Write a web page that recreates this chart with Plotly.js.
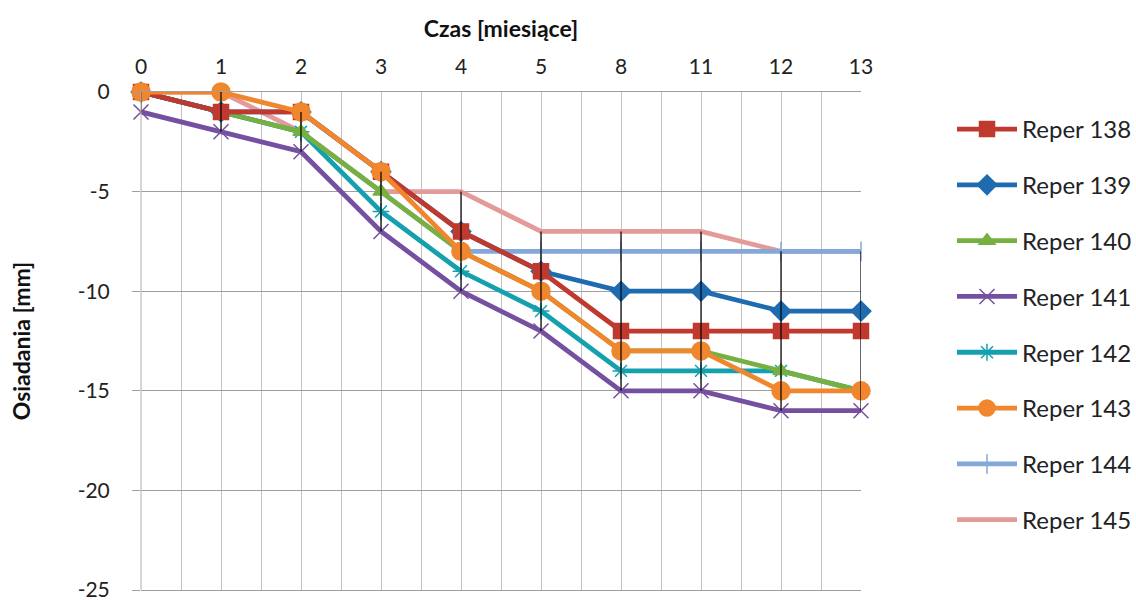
<!DOCTYPE html>
<html>
<head>
<meta charset="utf-8">
<script src="https://cdn.plot.ly/plotly-3.0.1.min.js"></script>
<style>html,body{margin:0;padding:0;background:#fff;}#chart{width:1136px;height:600px;}</style>
</head>
<body>
<div id="chart"></div>
<script>
const months = ["0","1","2","3","4","5","8","11","12","13"];
const reper138 = [0,-1,-1,-4,-7,-9,-12,-12,-12,-12];
const reper139 = [0,-1,-1,-4,-7,-9,-10,-10,-11,-11];
const reper140 = [0,-1,-2,-5,-8,-10,-13,-13,-14,-15];
const reper141 = [-1,-2,-3,-7,-10,-12,-15,-15,-16,-16];
const reper142 = [0,-1,-2,-6,-9,-11,-14,-14,-14,-15];
const reper143 = [0,0,-1,-4,-8,-10,-13,-13,-15,-15];
const reper144 = [0,-1,-2,-5,-8,-8,-8,-8,-8,-8];
const reper145 = [0,0,-2,-5,-5,-7,-7,-7,-8,-8];
const seriesNames = ["Reper 138","Reper 139","Reper 140","Reper 141","Reper 142","Reper 143","Reper 144","Reper 145"];
const yTicks = [0,-5,-10,-15,-20,-25];
const yTickText = ["0","-5","-10","-15","-20","-25"];

const idx = months.map((m,i)=>i);
const allSeries = [reper138,reper139,reper140,reper141,reper142,reper143,reper144,reper145];
const styles = [
  {color:'#C0392F', symbol:'square', size:15},
  {color:'#1F6BB0', symbol:'diamond', size:15},
  {color:'#76B041', symbol:'triangle-up', size:14},
  {color:'#7550A0', symbol:'x-thin-open', size:15},
  {color:'#14A0AE', symbol:'asterisk-open', size:14},
  {color:'#F0862E', symbol:'circle', size:18},
  {color:'#84A8D8', symbol:'line-ns-open', size:14},
  {color:'#E39A98', symbol:'circle', size:0}
];
const order = [7,6,4,2,3,1,0,5];
const traces = [];
order.forEach(k=>{
  const s = styles[k];
  traces.push({
    type:'scatter', mode: s.size ? 'lines+markers' : 'lines',
    x: idx, y: allSeries[k], name: seriesNames[k],
    legendrank: k+1, legendgroup: 'g'+k,
    line:{color:s.color, width:4.8},
    marker:{symbol:s.symbol, size:s.size, color:s.color, line:{color:s.color, width:1.5}},
    cliponaxis:false
  });
});
const hx = [], hy = [];
idx.forEach(i=>{
  const vals = allSeries.map(a=>a[i]);
  hx.push(i,i,null); hy.push(Math.max(...vals), Math.min(...vals), null);
});
traces.push({type:'scatter', mode:'lines', x:hx, y:hy, line:{color:'#000', width:1.2}, showlegend:false, hoverinfo:'skip', cliponaxis:false});

const minorVals = idx.slice(0,-1).map(i=>i+0.5);
const layout = {
  width:1136, height:600,
  margin:{l:141, r:275, t:92, b:10, autoexpand:false},
  paper_bgcolor:'#fff', plot_bgcolor:'#fff',
  font:{family:'Lato, "Open Sans", sans-serif', size:21, color:'#222'},
  showlegend:true,
  legend:{x:1.1264, xanchor:'left', y:0.97, yanchor:'top', font:{size:24, color:'#222'}, itemwidth:60, tracegroupgap:21.6, bgcolor:'rgba(0,0,0,0)'},
  xaxis:{
    side:'top', range:[0,9], tickmode:'array', tickvals:idx, ticktext:months,
    showgrid:true, gridcolor:'#c9bfbf', gridwidth:1, zeroline:false,
    showline:true, mirror:true, linecolor:'#a39d9d', linewidth:1,
    ticks:'', ticklabelstandoff:9, tickfont:{size:21},
    minor:{tickmode:'array', tickvals:minorVals, showgrid:true, gridcolor:'#c9bfbf', gridwidth:1, ticks:''},
    title:{text:'Czas [miesiące]', font:{size:23, color:'#111', weight:'bold'}, standoff:8},
    fixedrange:true
  },
  yaxis:{
    range:[-25,0], tickmode:'array', tickvals:yTicks, ticktext:yTickText,
    showgrid:true, gridcolor:'#a39d9d', gridwidth:1, zeroline:false,
    showline:false, ticks:'outside', ticklen:8, tickcolor:'#a39d9d', tickwidth:1,
    ticklabelstandoff:18, ticklabeloverflow:'allow', tickfont:{size:21},
    title:{text:'Osiadania [mm]', font:{size:23, color:'#111', weight:'bold'}, standoff:40},
    fixedrange:true
  },
  shapes:[{type:'line', xref:'paper', yref:'paper', x0:0, x1:0, y0:0, y1:1, line:{color:'#b5adad', width:1}}]
};
Plotly.newPlot('chart', traces, layout, {displayModeBar:false, staticPlot:true});
</script>
</body>
</html>
